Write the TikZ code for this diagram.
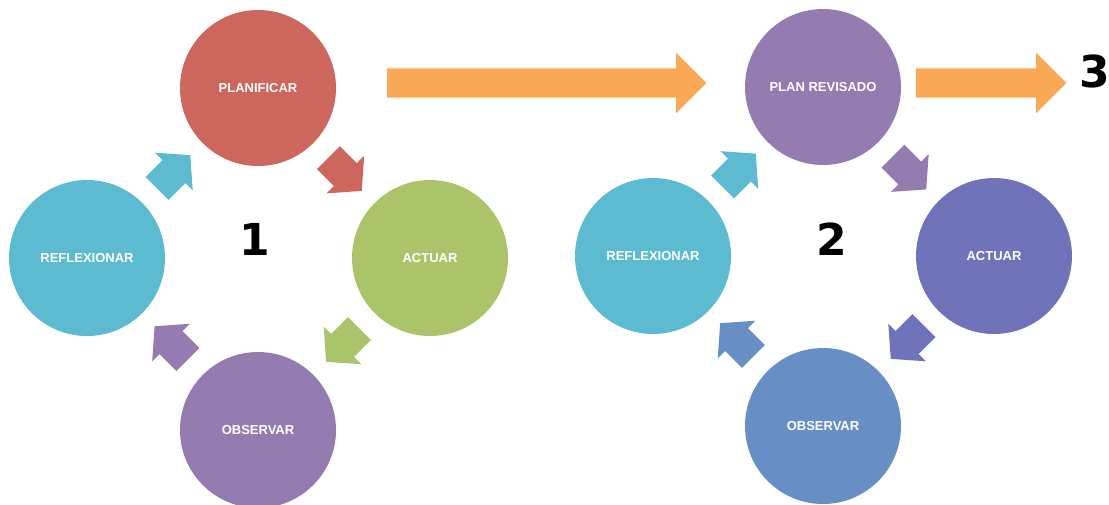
\documentclass[tikz,border=0pt]{standalone}
\usepackage{fontspec}
\setmainfont{Liberation Sans}
\newfontfamily\numfont{DejaVu Sans}
\usetikzlibrary{shapes.arrows,calc}

\definecolor{rojo}{RGB}{205,102,92}
\definecolor{verde}{RGB}{171,196,106}
\definecolor{lila}{RGB}{148,124,176}
\definecolor{cian}{RGB}{92,186,209}
\definecolor{naranja}{RGB}{249,168,86}
\definecolor{violeta}{RGB}{113,115,186}
\definecolor{azul}{RGB}{103,143,198}

\begin{document}
\begin{tikzpicture}[x=1pt,y=-1pt,
		etapa/.style={circle,minimum size=156pt,inner sep=0pt,text=white,
			font=\fontsize{13}{15}\selectfont\bfseries},
		flecha/.style={single arrow,anchor=tail,inner xsep=16.25pt,inner ysep=16pt,
			single arrow head extend=10.5pt,single arrow tip angle=98},
		avance/.style={single arrow,anchor=tail,fill=naranja,inner ysep=14.5pt,
			single arrow head extend=15.5pt,single arrow tip angle=90},
		numero/.style={font=\numfont\fontsize{44}{48}\selectfont\bfseries}
		]
		\useasboundingbox (0,0) rectangle (1109,504);
		%Ciclo 1
		\path (258,88) node[etapa,fill=rojo] (planificar) {PLANIFICAR}
		(430,258) node[etapa,fill=verde] (actuar1) {ACTUAR}
		(258,430) node[etapa,fill=lila] (observar1) {OBSERVAR}
		(87,258) node[etapa,fill=cian] (reflexionar1) {REFLEXIONAR}
		(255,239) node[numero] (uno) {1};
		\path ($($(planificar)!0.5!(actuar1)$)!22pt!(planificar)$) node[flecha,fill=rojo,rotate=-45] (f1a) {}
		($($(actuar1)!0.5!(observar1)$)!22pt!(actuar1)$) node[flecha,fill=verde,rotate=-135] (f1b) {}
		($($(observar1)!0.5!(reflexionar1)$)!22pt!(observar1)$) node[flecha,fill=lila,rotate=135] (f1c) {}
		($($(reflexionar1)!0.5!(planificar)$)!22pt!(reflexionar1)$) node[flecha,fill=cian,rotate=45] (f1d) {};
		%Ciclo 2
		\path (823,87) node[etapa,fill=lila] (revisado) {PLAN REVISADO}
		(994,256) node[etapa,fill=violeta] (actuar2) {ACTUAR}
		(823,426) node[etapa,fill=azul] (observar2) {OBSERVAR}
		(653,256) node[etapa,fill=cian] (reflexionar2) {REFLEXIONAR}
		(832,239) node[numero] (dos) {2};
		\path ($($(revisado)!0.5!(actuar2)$)!22pt!(revisado)$) node[flecha,fill=lila,rotate=-45] (f2a) {}
		($($(actuar2)!0.5!(observar2)$)!22pt!(actuar2)$) node[flecha,fill=violeta,rotate=-135] (f2b) {}
		($($(observar2)!0.5!(reflexionar2)$)!22pt!(observar2)$) node[flecha,fill=azul,rotate=135] (f2c) {}
		($($(reflexionar2)!0.5!(revisado)$)!22pt!(reflexionar2)$) node[flecha,fill=cian,rotate=45] (f2d) {};
		%Avance entre ciclos
		\path (387,83) node[avance,inner xsep=152pt] (paso1) {}
		(916,83) node[avance,inner xsep=67.5pt] (paso2) {}
		(1095,71) node[numero] (tres) {3};
	\end{tikzpicture}
\end{document}
